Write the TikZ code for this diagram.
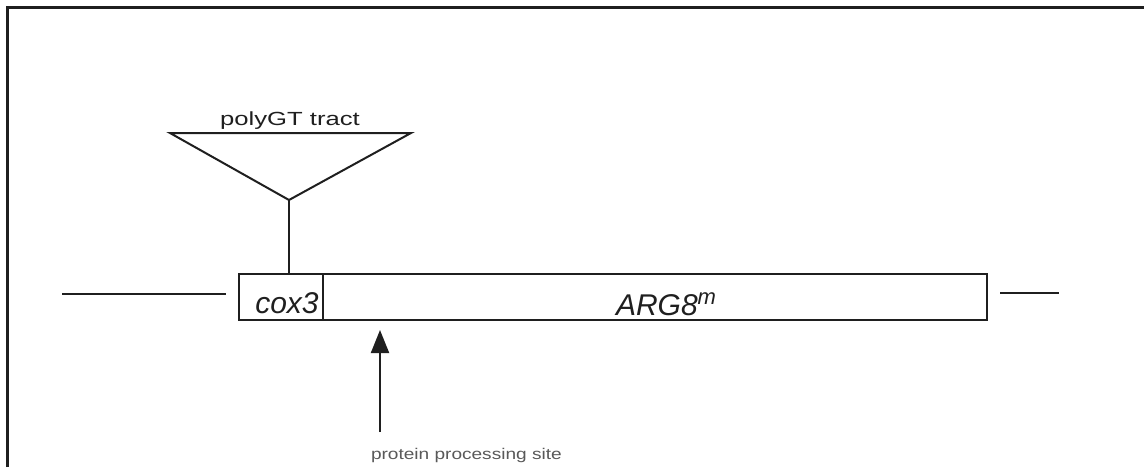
\documentclass[tikz,border=0pt]{standalone}
\usepackage{fontspec}
\setmainfont{Liberation Sans}
\usetikzlibrary{arrows.meta}

\tikzset{
	gene/.style={draw, line width=2.2pt, inner sep=0pt, minimum height=46pt},
	genename/.style={font=\fontsize{30}{30}\selectfont\itshape, inner sep=0pt},
}

\begin{document}
\begin{tikzpicture}[x=1pt, y=-1pt, line width=2pt, color=black!88]
		\useasboundingbox (0,0) rectangle (1144,467);
		\draw[line width=3pt] (7,467)--(7,7)--(1144,7);

		% the fusion gene
		\node[gene, minimum width=84pt] (cox) at (281,297) {};
		\node[gene, minimum width=664pt] (arg) at (655,297) {};
		\node[genename, anchor=base] (coxname) at (287,313) {cox3};
		\node[genename, anchor=base west] (argname) at (615,315)
			{ARG8\raisebox{11pt}{\fontsize{22}{22}\selectfont m}};

		% flanking sequence
		\coordinate (l1) at (62,294);
		\coordinate (l2) at (226,294);
		\coordinate (r1) at (1000,293);
		\coordinate (r2) at (1059,293);
		\draw (l1)--(l2);
		\draw (r1)--(r2);

		% insertion
		\coordinate (tl) at (170,133);
		\coordinate (tr) at (411,133);
		\coordinate (apex) at (289,200);
		\draw (tl)--(tr)--(apex)--cycle;
		\draw (apex)--(apex |- cox.north);
		\node[anchor=base, inner sep=0pt, font=\fontsize{19}{19}\selectfont] (tract) at (290,125)
			{\scalebox{1.35}[1]{polyGT tract}};

		% processing site
		\coordinate (site) at (380,432);
		\coordinate (sitetip) at (380,330);
		\draw[-{Triangle[width=18pt,length=23pt]}] (site)--(sitetip);
		\node[anchor=base west, inner sep=0pt, text=black!65, font=\fontsize{15.5}{15.5}\selectfont] (sitename) at (370,459)
			{\scalebox{1.23}[1]{protein processing site}};
\end{tikzpicture}
\end{document}
